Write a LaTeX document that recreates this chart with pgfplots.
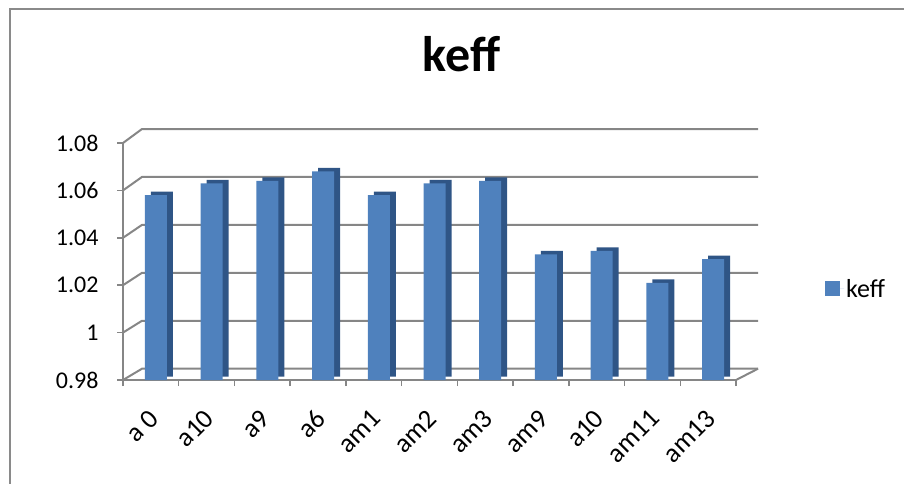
\documentclass[border=0pt]{standalone}
\usepackage{pgfplots}
\pgfplotsset{compat=1.18}
\usepackage{fontspec}
\setmainfont{Carlito}
\definecolor{barfront}{HTML}{4F81BD}
\definecolor{barside}{HTML}{2F5586}
\definecolor{gridc}{HTML}{868686}
\definecolor{framec}{HTML}{8A8A8A}
\begin{document}
\begin{tikzpicture}[x=1pt,y=1pt]
\useasboundingbox (0,0) rectangle (904,483);
\draw[framec, line width=1.5pt] (10,-5) -- (10,474) -- (910,474);
\node[font=\bfseries\fontsize{50}{54}\selectfont, anchor=base] at (461.5,411) {keff};
\begin{axis}[
  at={(123pt,103pt)}, anchor=south west,
  scale only axis, width=613pt, height=237pt,
  xmin=-0.5, xmax=10.5, ymin=0.98, ymax=1.08,
  clip mode=individual,
  axis lines*=left,
  axis line style={gridc, line width=2pt},
  tick style={gridc, line width=1.5pt},
  tick align=outside, major tick length=6pt,
  xtick={-0.5,0.5,...,10.5},
  x tick label as interval,
  xticklabels={a 0, a10, a9, a6, am1, am2, am3, am9, a10, am11, am13},
  xticklabel style={rotate=45, anchor=north east, font=\fontsize{27}{29}\selectfont, xshift=-14.5pt, yshift=-9.5pt},
  ytick={0.98,1,1.02,1.04,1.06,1.08},
  yticklabel style={font=\fontsize{24}{26}\selectfont, xshift=-15pt},
  /pgf/number format/.cd, fixed, precision=2, assume math mode=true,
  /pgfplots/.cd,
  legend style={at={(1.145,0.384)}, anchor=west, draw=none, fill=none,
    font=\fontsize{26}{28}\selectfont, inner sep=0pt},
]
\pgfplotsinvokeforeach{0.98,1.00,1.02,1.04,1.06,1.08}{
  \draw[gridc, line width=2pt] (axis cs:-0.5,#1) -- ++(19pt,{(11.3+(#1-0.98)*27)*1pt}) -- ++(616pt,0pt);
}
\draw[gridc, line width=2pt] (axis cs:10.5,0.98) -- ++(22pt,11.3pt);
\addplot[ybar, bar width=22pt, bar shift=11pt, yshift=3.5pt, fill=barside, draw=none, forget plot]
  coordinates {(0,1.058) (1,1.063) (2,1.064) (3,1.068) (4,1.058) (5,1.063) (6,1.064) (7,1.033) (8,1.0345) (9,1.021) (10,1.031)};
\addplot[ybar, bar width=22pt, bar shift=5pt, fill=barfront, draw=none,
  legend image code/.code={\fill[barfront] (0pt,-7.5pt) rectangle (15pt,7.5pt); \path (0pt,0pt) -- (19pt,0pt);}]
  coordinates {(0,1.058) (1,1.063) (2,1.064) (3,1.068) (4,1.058) (5,1.063) (6,1.064) (7,1.033) (8,1.0345) (9,1.021) (10,1.031)};
\addlegendentry{keff}
\end{axis}
\end{tikzpicture}
\end{document}
